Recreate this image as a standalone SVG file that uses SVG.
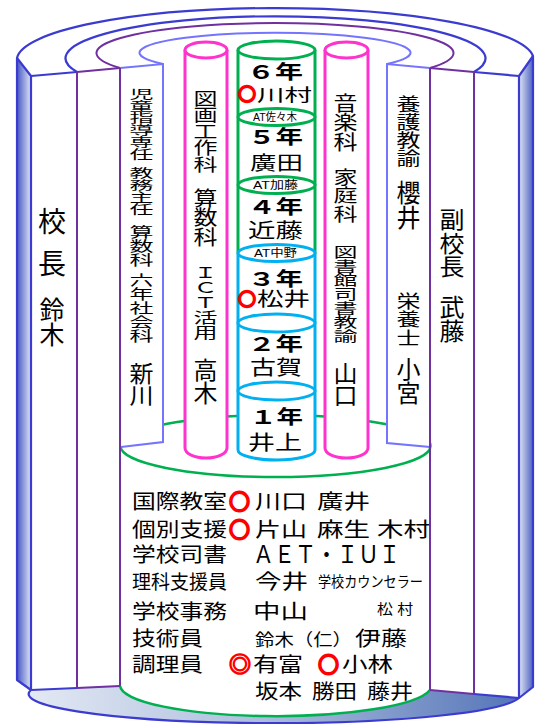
<svg xmlns="http://www.w3.org/2000/svg" width="544" height="724" viewBox="0 0 544 724">
<defs>
<linearGradient id="gL" x1="0" y1="0" x2="1" y2="0"><stop offset="0" stop-color="#4658c6"/><stop offset="1" stop-color="#dfe6f4"/></linearGradient>
<linearGradient id="gR" x1="0" y1="0" x2="1" y2="0"><stop offset="0" stop-color="#dfe6f4"/><stop offset="1" stop-color="#4e62c2"/></linearGradient>
<linearGradient id="gF" gradientUnits="userSpaceOnUse" x1="31" y1="0" x2="519" y2="0"><stop offset="0" stop-color="#e3e9f4"/><stop offset="0.5" stop-color="#a9bbdc"/><stop offset="1" stop-color="#5575b8"/></linearGradient>
<style>
.t{font-family:"Noto Sans CJK JP","Noto Sans",sans-serif;fill:#000}
.s{font-family:"Liberation Sans","Noto Sans CJK JP",sans-serif;fill:#000}
.v{writing-mode:vertical-rl;font-size:24px}
.b{font-weight:bold}
.r{font-family:"Liberation Sans","Noto Sans CJK JP",sans-serif;fill:#ff0000;stroke:#ff0000;stroke-width:1.8}
.rr{font-family:"Noto Sans CJK JP",sans-serif;fill:#ff0000;stroke:#ff0000;stroke-width:1.5}
.bl{stroke:#3b3bcf;stroke-width:2.2;fill:none}
.pu{stroke:#7030a0;stroke-width:2;fill:none}
.lb{stroke:#7474ff;stroke-width:2;fill:none}
.pk{stroke:#ff33cc;stroke-width:3;fill:#fff}
.gr{stroke:#00b050;stroke-width:3;fill:#fff}
.cy{stroke:#00b0f0;stroke-width:3;fill:#fff}
.at{font-size:11px}
</style>
</defs>
<rect width="544" height="724" fill="#fff"/>

<g id="structure">
<polygon points="17,58 31,76 31,690 17,680" fill="url(#gL)" stroke="#3b3bcf" stroke-width="2.2" stroke-linejoin="round"/>
<polygon points="533,56 519,76 519,698 533,687" fill="url(#gR)" stroke="#3b3bcf" stroke-width="2.2" stroke-linejoin="round"/>
<path d="M31,690 L77,688 L120,686 A156,31 0 0 0 430,690 L474,694 L519,698 A245,29 0 0 1 31,690 Z" fill="url(#gF)"/>
<path class="bl" d="M519,698 A245,29 0 0 1 31,690"/>
<path d="M120,686 A156,31 0 0 0 430,690" fill="none" stroke="#00b050" stroke-width="2.5"/>
<path class="bl" d="M31,690 L77,688"/>
<path class="pu" d="M77,688 L120,686"/>
<path class="pu" d="M430,690 L474,694"/>
<path class="bl" d="M474,694 L519,698"/>
<path class="bl" d="M17,58 A258.5,52 0 0 1 533,56"/>
<path class="bl" d="M77,72 A210,42 0 1 1 474,72"/>
<path class="pu" d="M120,68 A178.5,30 0 1 1 430,68"/>
<path class="lb" d="M163,64 A135.5,20 0 1 1 387,64"/>
<path class="bl" d="M31,76 L77,72"/>
<path class="pu" d="M77,72 L120,68"/>
<path class="pu" d="M430,68 L474,72"/>
<path class="bl" d="M474,72 L519,76"/>
<path class="pu" d="M77,72 L77,688"/>
<path class="pu" d="M474,72 L474,694"/>
<ellipse cx="275.5" cy="446" rx="155" ry="31" fill="none" stroke="#00b050" stroke-width="2.5"/>
</g>

<g id="panel-left-lb">
<polygon points="120,68 163,64 163,442 121,447" fill="#fff"/>
<path class="lb" d="M120,68 L163,64 L163,442 L121,447"/>
</g>
<g id="panel-right-lb">
<polygon points="387,64 430,68 430,447 387,443" fill="#fff"/>
<path class="lb" d="M430,68 L387,64 L387,443 L430,447"/>
</g>
<path class="pu" d="M120,68 L120,686"/>
<path class="pu" d="M430,68 L430,690"/>

<g id="pink-left">
<path class="pk" d="M185,50 L185,448 A21,10 0 0 0 227,448 L227,50"/>
<ellipse class="pk" cx="206" cy="50" rx="21" ry="8"/>
</g>
<g id="pink-right">
<path class="pk" d="M325,50 L325,448 A21.5,10 0 0 0 368,448 L368,50"/>
<ellipse class="pk" cx="346.5" cy="50" rx="21.5" ry="8"/>
</g>

<g id="grades">
<rect x="238" y="50" width="77" height="205" fill="#fff"/>
<path class="cy" d="M238,253 L238,450 A38.5,10 0 0 0 315,450 L315,253"/>
<path d="M238,50 L238,253 M315,50 L315,253" stroke="#00b050" stroke-width="3" fill="none"/>
<ellipse class="gr" cx="276.5" cy="50" rx="38.5" ry="9"/>
<ellipse class="gr" cx="276.5" cy="117" rx="38.5" ry="8.5"/>
<ellipse class="gr" cx="276.5" cy="185" rx="38.5" ry="8.5"/>
<ellipse class="cy" cx="276.5" cy="253" rx="38.5" ry="8.5"/>
<ellipse class="cy" cx="276.5" cy="323" rx="38.5" ry="9"/>
<ellipse class="cy" cx="276.5" cy="391" rx="38.5" ry="9"/>
<g class="s">
<text class="b" x="247" y="79" font-size="19" textLength="56" lengthAdjust="spacingAndGlyphs">６年</text>
<text class="r" x="238" y="101" font-size="18">〇</text>
<text x="257" y="101" font-size="17" textLength="55" lengthAdjust="spacingAndGlyphs">川村</text>
<text class="at" x="253" y="121" textLength="44" lengthAdjust="spacingAndGlyphs">AT佐々木</text>
<text class="b" x="248" y="144" font-size="19" textLength="55" lengthAdjust="spacingAndGlyphs">５年</text>
<text x="250" y="170" font-size="19" textLength="53" lengthAdjust="spacingAndGlyphs">廣田</text>
<text class="at" x="253" y="189" textLength="45" lengthAdjust="spacingAndGlyphs">AT加藤</text>
<text class="b" x="248" y="214" font-size="19" textLength="55" lengthAdjust="spacingAndGlyphs">４年</text>
<text x="248" y="238" font-size="20" textLength="55" lengthAdjust="spacingAndGlyphs">近藤</text>
<text class="at" x="254" y="257" textLength="43" lengthAdjust="spacingAndGlyphs">AT中野</text>
<text class="b" x="248" y="286" font-size="19" textLength="55" lengthAdjust="spacingAndGlyphs">３年</text>
<text class="r" x="238" y="306" font-size="18">〇</text>
<text x="257" y="306" font-size="19" textLength="53" lengthAdjust="spacingAndGlyphs">松井</text>
<text class="b" x="248" y="351" font-size="19" textLength="55" lengthAdjust="spacingAndGlyphs">２年</text>
<text x="250" y="375" font-size="20" textLength="52" lengthAdjust="spacingAndGlyphs">古賀</text>
<text class="b" x="250" y="424" font-size="19" textLength="53" lengthAdjust="spacingAndGlyphs">１年</text>
<text x="248" y="450" font-size="20" textLength="54" lengthAdjust="spacingAndGlyphs">井上</text>
</g>
</g>

<g id="principal" class="t">
<text class="v" transform="translate(52,207)" style="font-size:28px;letter-spacing:14px">校長</text>
<text class="v" transform="translate(52,297)" style="font-size:25px">鈴木</text>
</g>
<g id="niikawa" class="t">
<text class="v" transform="translate(141.5,88) scale(1,0.5)">児童指導専任</text>
<text class="v" transform="translate(141.5,167) scale(1,0.5)">教務主任</text>
<text class="v" transform="translate(141.5,225) scale(1,0.58)">算数科</text>
<text class="v" transform="translate(141.5,273) scale(1,0.58)">六年社会科</text>
<text class="v" transform="translate(141.5,362) scale(1,0.94)">新川</text>
</g>
<g id="takagi" class="t">
<text class="v" transform="translate(205.5,90) scale(1,0.69)">図画工作科</text>
<text class="v" transform="translate(205.5,188) scale(1,0.83)">算数科</text>
<text class="v" transform="translate(205.5,265) scale(1,0.625)">ＩＣＴ活用</text>
<text class="v" transform="translate(205.5,358) scale(1,0.98)">高木</text>
</g>
<g id="yamaguchi" class="t">
<text class="v" transform="translate(345.5,93) scale(1,0.83)">音楽科</text>
<text class="v" transform="translate(345.5,168) scale(1,0.76)">家庭科</text>
<text class="v" transform="translate(345.5,245) scale(1,0.58)">図書館司書教諭</text>
<text class="v" transform="translate(345.5,362) scale(1,0.94)">山口</text>
</g>
<g id="sakurai" class="t">
<text class="v" transform="translate(408.5,95) scale(1,0.75)">養護教諭</text>
<text class="v" transform="translate(408.5,180) scale(1,1.04)">櫻井</text>
<text class="v" transform="translate(408.5,292) scale(1,0.76)">栄養士</text>
<text class="v" transform="translate(408.5,357) scale(1,1)">小宮</text>
</g>
<g id="vice-principal" class="t">
<text class="v" transform="translate(452,208) scale(1,0.93)" style="font-size:25px">副校長</text>
<text class="v" transform="translate(452,295) scale(1,0.96)" style="font-size:25px">武藤</text>
</g>

<g id="staff" class="s" font-size="20">
<text x="132" y="508.5" textLength="95" lengthAdjust="spacingAndGlyphs">国際教室</text>
<text class="r" x="229" y="508.5" font-size="21">〇</text>
<text x="255" y="508.5" textLength="52" lengthAdjust="spacingAndGlyphs">川口</text>
<text x="317" y="508.5" textLength="53" lengthAdjust="spacingAndGlyphs">廣井</text>

<text x="132" y="536.5" textLength="95" lengthAdjust="spacingAndGlyphs">個別支援</text>
<text class="r" x="229" y="536.5" font-size="21">〇</text>
<text x="255" y="536.5" textLength="52" lengthAdjust="spacingAndGlyphs">片山</text>
<text x="317" y="536.5" textLength="53" lengthAdjust="spacingAndGlyphs">麻生</text>
<text x="377" y="536.5" textLength="53" lengthAdjust="spacingAndGlyphs">木村</text>

<text x="132" y="561.5" textLength="95" lengthAdjust="spacingAndGlyphs">学校司書</text>
<text x="253" y="563" font-size="24" textLength="147" lengthAdjust="spacingAndGlyphs">ＡＥＴ・ＩＵＩ</text>

<text x="132" y="588.5" font-size="19" textLength="95" lengthAdjust="spacingAndGlyphs">理科支援員</text>
<text x="255" y="588.5" textLength="53" lengthAdjust="spacingAndGlyphs">今井</text>
<text x="318" y="587" font-size="15" textLength="105" lengthAdjust="spacingAndGlyphs">学校カウンセラー</text>

<text x="132" y="618.5" textLength="95" lengthAdjust="spacingAndGlyphs">学校事務</text>
<text x="253" y="618.5" textLength="55" lengthAdjust="spacingAndGlyphs">中山</text>
<text x="377" y="614" font-size="14" textLength="36" lengthAdjust="spacingAndGlyphs">松 村</text>

<text x="132" y="645.5" textLength="71" lengthAdjust="spacingAndGlyphs">技術員</text>
<text x="255" y="645.5" font-size="17" textLength="97" lengthAdjust="spacingAndGlyphs">鈴木（仁）</text>
<text x="355" y="645.5" textLength="52" lengthAdjust="spacingAndGlyphs">伊藤</text>

<text x="132" y="671.5" textLength="71" lengthAdjust="spacingAndGlyphs">調理員</text>
<text class="rr" x="229" y="671.5" font-size="22">◎</text>
<text x="253" y="671.5" textLength="50" lengthAdjust="spacingAndGlyphs">有富</text>
<text class="r" x="318" y="671.5" font-size="21">〇</text>
<text x="342" y="671.5" textLength="51" lengthAdjust="spacingAndGlyphs">小林</text>

<text x="255" y="698.5" textLength="47" lengthAdjust="spacingAndGlyphs">坂本</text>
<text x="312" y="698.5" textLength="45" lengthAdjust="spacingAndGlyphs">勝田</text>
<text x="367" y="698.5" textLength="46" lengthAdjust="spacingAndGlyphs">藤井</text>
</g>
</svg>
